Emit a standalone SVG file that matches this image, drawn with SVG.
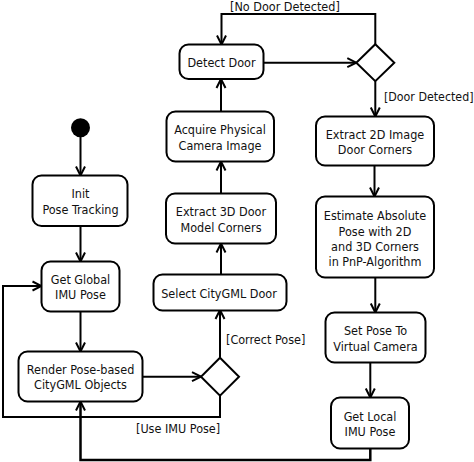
<svg xmlns="http://www.w3.org/2000/svg" width="474" height="462" viewBox="0 0 474 462">
<defs>
<marker id="arr" viewBox="-11 -6 12 12" refX="0" refY="0" markerWidth="12" markerHeight="12" markerUnits="userSpaceOnUse" orient="auto">
<path d="M-9,-4.5 L0,0 L-9,4.5" fill="none" stroke="#000" stroke-width="2"/>
</marker>
</defs>
<style>
.box{fill:#fff;stroke:#000;stroke-width:2}
.dec{fill:#fff;stroke:#000;stroke-width:2}
.c{fill:none;stroke:#000;stroke-width:2}
text{font-family:"DejaVu Sans Condensed","DejaVu Sans",sans-serif;font-size:12.5px;fill:#111}
.m{text-anchor:middle}
</style>
<rect width="474" height="462" fill="#fff"/>
<g id="connectors">
<line class="c" x1="80.5" y1="137" x2="80.5" y2="175.5" marker-end="url(#arr)"/>
<line class="c" x1="80.5" y1="226" x2="80.5" y2="261.5" marker-end="url(#arr)"/>
<line class="c" x1="80.5" y1="311.5" x2="80.5" y2="351.5" marker-end="url(#arr)"/>
<line class="c" x1="142.5" y1="376.7" x2="201" y2="376.7" marker-end="url(#arr)"/>
<line class="c" x1="220" y1="357.7" x2="220" y2="310" marker-end="url(#arr)"/>
<line class="c" x1="221" y1="274.5" x2="221" y2="243.5" marker-end="url(#arr)"/>
<line class="c" x1="221" y1="193.5" x2="221" y2="161.5" marker-end="url(#arr)"/>
<line class="c" x1="221" y1="111.5" x2="221" y2="79" marker-end="url(#arr)"/>
<line class="c" x1="263.5" y1="62.7" x2="356.3" y2="62.7" marker-end="url(#arr)"/>
<polyline class="c" points="375.3,44.2 375.3,14 221.5,14 221.5,44.5" marker-end="url(#arr)"/>
<line class="c" x1="375.3" y1="81.2" x2="375.3" y2="116.5" marker-end="url(#arr)"/>
<line class="c" x1="374.5" y1="165.5" x2="374.5" y2="196.5" marker-end="url(#arr)"/>
<line class="c" x1="375.3" y1="277.5" x2="375.3" y2="312.5" marker-end="url(#arr)"/>
<line class="c" x1="370.3" y1="362.5" x2="370.3" y2="397.5" marker-end="url(#arr)"/>
<polyline class="c" points="370.3,448.5 370.3,460 80.5,460 80.5,401.5" marker-end="url(#arr)" style="stroke-width:2.5"/>
<polyline class="c" points="220,395.7 220,417 3,417 3,286 41.5,286" marker-end="url(#arr)"/>
<text x="230" y="11">[No Door Detected]</text>
<text x="384" y="101" style="font-size:12.3px">[Door Detected]</text>
<text x="226" y="344">[Correct Pose]</text>
<text x="136" y="433">[Use IMU Pose]</text>
</g>
<g id="start"><circle cx="80.5" cy="127.7" r="9.5" fill="#000"/></g>
<g id="init"><rect class="box" x="32.5" y="175.5" width="95" height="50.5" rx="9"/>
<text class="m" x="80.5" y="197.5">Init</text><text class="m" x="80.5" y="213.5">Pose Tracking</text></g>
<g id="getGlobal"><rect class="box" x="41.5" y="261.5" width="78" height="50" rx="9"/>
<text class="m" x="80.5" y="284">Get Global</text><text class="m" x="80.5" y="299">IMU Pose</text></g>
<g id="render"><rect class="box" x="18.5" y="351.5" width="124" height="50" rx="9"/>
<text class="m" x="80.5" y="373.7">Render Pose-based</text><text class="m" x="80.5" y="389.3">CityGML Objects</text></g>
<g id="decision2"><polygon class="dec" points="220,357.7 239,376.7 220,395.7 201,376.7"/></g>
<g id="select"><rect class="box" x="153.5" y="274.5" width="133" height="36" rx="9"/>
<text class="m" x="219" y="298.3">Select CityGML Door</text></g>
<g id="extract3d"><rect class="box" x="166" y="193.5" width="110" height="50" rx="9"/>
<text class="m" x="221" y="216">Extract 3D Door</text><text class="m" x="221" y="231.7">Model Corners</text></g>
<g id="acquire"><rect class="box" x="166.5" y="111.5" width="107.5" height="50" rx="9"/>
<text class="m" x="220" y="134">Acquire Physical</text><text class="m" x="220" y="149.5">Camera Image</text></g>
<g id="detect"><rect class="box" x="179.5" y="44.5" width="84" height="34.5" rx="9"/>
<text class="m" x="221.5" y="66.5">Detect Door</text></g>
<g id="decision1"><polygon class="dec" points="375.3,44.2 394.3,62.7 375.3,81.2 356.3,62.7"/></g>
<g id="extract2d"><rect class="box" x="316" y="116.5" width="118" height="49" rx="9"/>
<text class="m" x="375" y="139.3">Extract 2D Image</text><text class="m" x="375" y="154">Door Corners</text></g>
<g id="estimate"><rect class="box" x="316" y="196.5" width="118" height="81" rx="9"/>
<text class="m" x="375" y="220">Estimate Absolute</text><text class="m" x="375" y="235.5">Pose with 2D</text><text class="m" x="375" y="251">and 3D Corners</text><text class="m" x="375" y="266">in PnP-Algorithm</text></g>
<g id="setPose"><rect class="box" x="325.5" y="312.5" width="100" height="50" rx="9"/>
<text class="m" x="375.5" y="335">Set Pose To</text><text class="m" x="375.5" y="350.5">Virtual Camera</text></g>
<g id="getLocal"><rect class="box" x="331" y="397.5" width="78" height="51" rx="9"/>
<text class="m" x="370" y="421">Get Local</text><text class="m" x="370" y="436">IMU Pose</text></g>
</svg>
